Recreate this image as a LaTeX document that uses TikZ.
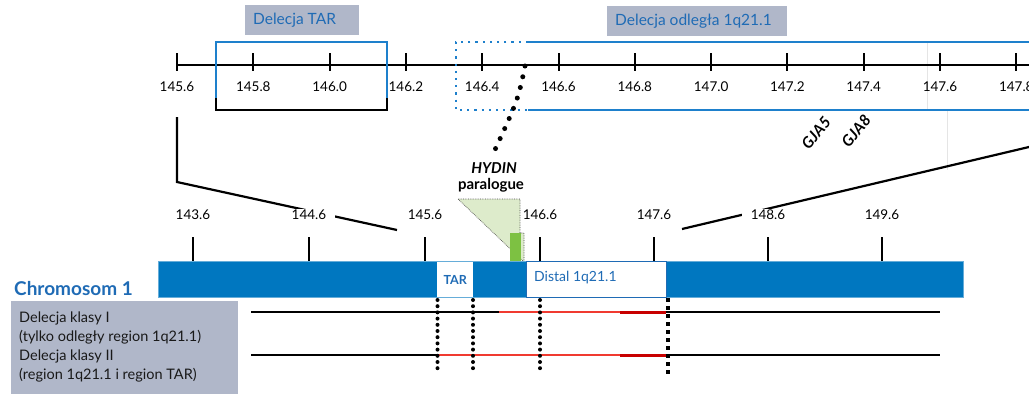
\documentclass[tikz,border=0pt]{standalone}
\usepackage{fontspec}
\setmainfont{Lato}
\definecolor{boxgray}{HTML}{B0B7C9}
\definecolor{txtblue}{HTML}{1F6BB5}
\definecolor{barblue}{HTML}{0077C0}
\definecolor{linblue}{HTML}{1E80CC}
\definecolor{lgreen}{HTML}{DDEBCB}
\definecolor{dgreen}{HTML}{7DC142}
\definecolor{dred}{HTML}{C80000}
\definecolor{lred}{HTML}{F03A30}
\tikzset{
  tagtxt/.style={text=txtblue, font=\fontsize{15.5}{17}\selectfont, inner sep=0pt, anchor=west},
  toplbl/.style={font=\fontsize{13.5}{15}\selectfont, inner sep=1pt},
  midlbl/.style={font=\fontsize{13.5}{15}\selectfont, inner xsep=9pt, inner ysep=1pt, fill=white},
  axline/.style={line width=2pt, black},
  tickln/.style={line width=2pt, black},
  boxblue/.style={line width=2pt, linblue},
  bluedots/.style={line width=2.2pt, linblue, dash pattern=on 2.2pt off 5pt},
  zoomln/.style={line width=2.2pt, black},
  rdots/.style={line width=4pt, line cap=round, dash pattern=on 0pt off 6.2pt},
  sdots/.style={line width=4pt, dash pattern=on 4pt off 4pt},
  hdots/.style={line width=5pt, line cap=round, dash pattern=on 0pt off 11pt},
  gene/.style={font=\fontsize{15}{17}\selectfont\bfseries, inner sep=0pt},
  gjalbl/.style={font=\fontsize{15.5}{17}\selectfont\bfseries\itshape, inner sep=0pt, rotate=50},
  legtxt/.style={font=\fontsize{14.5}{16}\selectfont, anchor=west, inner sep=0pt, text=black!90},
  blk/.style={line width=2pt, black},
  redln/.style={line width=2pt, lred},
  dredln/.style={line width=3pt, dred},
}
\begin{document}
\begin{tikzpicture}[x=1pt,y=-1pt]
\useasboundingbox (0,0) rectangle (1029,394);

% tag boxes
\node[fill=boxgray, inner sep=0pt, minimum width=114pt, minimum height=30pt, anchor=north west] (tagTAR) at (245,5) {};
\node[tagtxt] (tagTARt) at (253,20) {Delecja TAR};
\node[fill=boxgray, inner sep=0pt, minimum width=180pt, minimum height=30pt, anchor=north west] (tagDist) at (607,6) {};
\node[tagtxt] (tagDistt) at (615,21) {Delecja odległa 1q21.1};

% faint guide lines
\coordinate (g1a) at (927,42); \coordinate (g1b) at (927,110);
\coordinate (g2a) at (947,110); \coordinate (g2b) at (947,170);
\draw[black!10, line width=0.8pt] (g1a) -- (g1b);
\draw[black!10, line width=0.8pt] (g2a) -- (g2b);

% top axis
\coordinate (ta0) at (177,65); \coordinate (ta1) at (1029,65);
\draw[axline] (ta0) -- (ta1);
\foreach \v [count=\i from 0] in {145.6,145.8,146.0,146.2,146.4,146.6,146.8,147.0,147.2,147.4,147.6,147.8}{
  \pgfmathsetmacro\xx{177+76.3*\i}
  \draw[tickln] (\xx,53) -- (\xx,71);
  \node[toplbl] (tl\i) at (\xx,87) {\v};
}

% TAR box
\coordinate (tb1) at (216,98); \coordinate (tb2) at (216,42);
\coordinate (tb3) at (387,42); \coordinate (tb4) at (387,98);
\coordinate (tb5) at (216,110); \coordinate (tb6) at (387,110);
\draw[boxblue] (tb1) -- (tb2) -- (tb3) -- (tb4);
\draw[line width=2pt, black] (tb1) -- (tb5) -- (tb6) -- (tb4);

% distal box
\coordinate (db1) at (528,42); \coordinate (db2) at (456,42);
\coordinate (db3) at (456,110); \coordinate (db4) at (528,110);
\coordinate (db5) at (1029,42); \coordinate (db6) at (1029,110);
\draw[bluedots] (db1) -- (db2) -- (db3) -- (db4);
\draw[boxblue] (db1) -- (db5);
\draw[boxblue] (db4) -- (db6);

% HYDIN dotted connector
\coordinate (hy0) at (525,66);
\coordinate (hy1) at (493,154);
\draw[hdots] (hy0) .. controls (518,100) .. (hy1);
\node[gene, font=\fontsize{15}{17}\selectfont\bfseries\itshape] (hydin) at (494,168) {HYDIN};
\node[gene] (paral) at (491,185) {paralogue};

% GJA labels
\node[gjalbl] (gja5) at (816,133) {GJA5};
\node[gjalbl] (gja8) at (856,131) {GJA8};

% zoom lines
\coordinate (zl0) at (177,117); \coordinate (zl1) at (177,182); \coordinate (zl2) at (397,230);
\draw[zoomln] (zl0) -- (zl1) -- (zl2);
\coordinate (zr0) at (1029,147); \coordinate (zr1) at (682,229);
\draw[zoomln] (zr0) -- (zr1);

% middle axis
\foreach \xx/\v [count=\i] in {193/143.6,309/144.6,425/145.6,540/146.6,654/147.6,768/148.6,882/149.6}{
  \draw[tickln] (\xx,237) -- (\xx,261);
  \node[midlbl] (ml\i) at (\xx,215) {\v};
}

% green paralogue region
\draw[fill=lgreen, draw=black!70, densely dotted, line width=0.7pt]
  (458,199) -- (520,199) -- (520,233) -- (524,233) -- (524,262) -- cycle;
\node[fill=dgreen, inner sep=0pt, minimum width=11pt, minimum height=29pt, anchor=north west] (grn) at (510,233) {};

% chromosome bar
\node[fill=barblue, draw=barblue!60, line width=0.6pt, inner sep=0pt, minimum width=805pt, minimum height=36pt, anchor=north west] (bar) at (158,261) {};
\node[fill=white, inner sep=0pt, minimum width=36pt, minimum height=35pt, anchor=north west,
      text=txtblue, font=\fontsize{12.5}{14}\selectfont\bfseries] (tarbox) at (437,262) {TAR};
\node[fill=white, draw=txtblue, line width=1.2pt, inner sep=0pt, minimum width=140pt, minimum height=36pt, anchor=north west] (distbox) at (526,261) {};
\node[text=txtblue, font=\fontsize{14}{16}\selectfont, anchor=west, inner sep=0pt] (disttxt) at (534,278) {Distal 1q21.1};

\node[text=txtblue, font=\fontsize{19}{21}\selectfont\bfseries, anchor=west, inner sep=0pt] (chr) at (14,289) {Chromosom 1};

% legend box
\node[fill=boxgray, inner sep=0pt, minimum width=227pt, minimum height=93pt, anchor=north west] (leg) at (11,301) {};
\node[legtxt] (lt1) at (19,318) {Delecja klasy I};
\node[legtxt] (lt2) at (19,337) {(tylko odległy region 1q21.1)};
\node[legtxt] (lt3) at (19,356) {Delecja klasy II};
\node[legtxt] (lt4) at (19,375) {(region 1q21.1 i region TAR)};

% deletion lines
\coordinate (a0) at (251,312); \coordinate (a1) at (499,312); \coordinate (a2) at (620,312);
\coordinate (a3) at (666,312); \coordinate (a4) at (940,312);
\draw[blk] (a0) -- (a1);
\draw[redln] (a1) -- (a2);
\draw[dredln] (a2) -- (a3);
\draw[blk] (a3) -- (a4);
\coordinate (b0) at (251,355); \coordinate (b1) at (437,355); \coordinate (b2) at (620,355);
\coordinate (b3) at (666,355); \coordinate (b4) at (940,355);
\draw[blk] (b0) -- (b1);
\draw[redln] (b1) -- (b2);
\draw[dredln] (b2) -- (b3);
\draw[blk] (b3) -- (b4);

% vertical breakpoint lines
\coordinate (v1a) at (437.5,300); \coordinate (v1b) at (437.5,374);
\coordinate (v2a) at (473,300); \coordinate (v2b) at (473,374);
\coordinate (v3a) at (540,300); \coordinate (v3b) at (540,374);
\coordinate (v4a) at (668,298); \coordinate (v4b) at (668,374);
\draw[rdots] (v1a) -- (v1b);
\draw[rdots] (v2a) -- (v2b);
\draw[rdots] (v3a) -- (v3b);
\draw[sdots] (v4a) -- (v4b);
\end{tikzpicture}
\end{document}
